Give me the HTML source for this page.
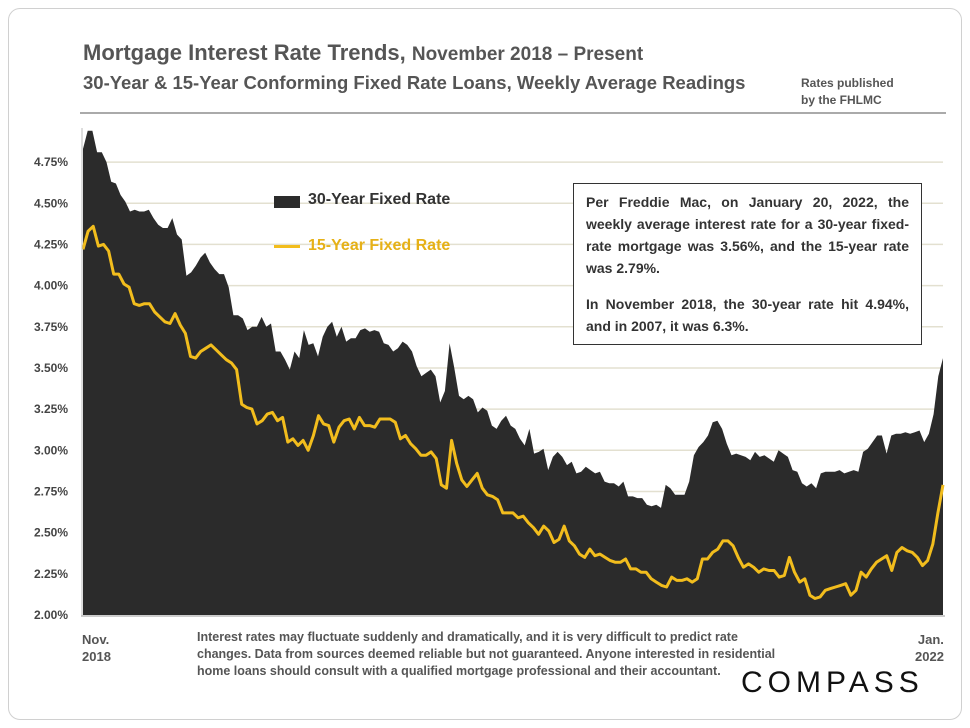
<!DOCTYPE html>
<html><head><meta charset="utf-8"><style>
body{margin:0;background:#fff;font-family:"Liberation Sans",sans-serif;}
#wrap{position:relative;width:970px;height:728px;overflow:hidden;}
.card{position:absolute;left:8px;top:8px;width:952px;height:710px;border:1px solid #d0d0d0;border-radius:12px;}
.t{position:absolute;color:#555;font-weight:bold;white-space:nowrap;}
</style></head><body>
<div id="wrap">
<div class="card"></div>
<div class="t" style="left:83px;top:40px;font-size:22px;">Mortgage Interest Rate Trends, <span style="font-size:19px">November 2018 – Present</span></div>
<div class="t" style="left:83px;top:72px;font-size:18.5px;">30-Year &amp; 15-Year Conforming Fixed Rate Loans, Weekly Average Readings</div>
<div class="t" style="left:801px;top:75px;font-size:12px;line-height:17px;">Rates published<br>by the FHLMC</div>
<div style="position:absolute;left:80px;top:112px;width:866px;height:2px;background:#aaa;"></div>
<svg id="chart" width="970" height="728" style="position:absolute;left:0;top:0"></svg>
<div class="t" style="left:308px;top:191px;font-size:16px;color:#333;">30-Year Fixed Rate</div>
<div style="position:absolute;left:274px;top:196px;width:26px;height:12px;background:#2b2b2b;"></div>
<div class="t" style="left:308px;top:237px;font-size:16px;color:#e6b117;">15-Year Fixed Rate</div>
<div style="position:absolute;left:274px;top:245px;width:26px;height:3px;background:#f2bd1d;"></div>
<div style="position:absolute;left:573px;top:183px;width:323px;height:145px;border:1.5px solid #333;background:#fff;padding:7px 12px 8px;font-size:14px;font-weight:bold;color:#333;line-height:22px;text-align:justify;">Per Freddie Mac, on January 20, 2022, the weekly average interest rate for a 30-year fixed-rate mortgage was 3.56%, and the 15-year rate was 2.79%.<div style="height:14px"></div>In November 2018, the 30-year rate hit 4.94%, and in 2007, it was 6.3%.</div>
<div class="t" style="left:82px;top:631px;font-size:13px;line-height:17px;">Nov.<br>2018</div>
<div class="t" style="left:915px;top:631px;font-size:13px;line-height:17px;text-align:right;">Jan.<br>2022</div>
<div class="t" style="left:197px;top:629px;font-size:12.5px;line-height:17px;white-space:normal;width:588px;">Interest rates may fluctuate suddenly and dramatically, and it is very difficult to predict rate changes. Data from sources deemed reliable but not guaranteed. Anyone interested in residential home loans should consult with a qualified mortgage professional and their accountant.</div>
<div class="t" style="left:741px;top:666px;font-size:30px;color:#111;letter-spacing:5px;font-weight:normal;">COMPASS</div>
</div>
<script>
const yTicks=[2.00,2.25,2.50,2.75,3.00,3.25,3.50,3.75,4.00,4.25,4.50,4.75];
const rate30=[4.83,4.94,4.94,4.81,4.81,4.75,4.63,4.62,4.55,4.51,4.45,4.46,4.45,4.45,4.46,4.41,4.37,4.35,4.35,4.41,4.31,4.28,4.06,4.08,4.12,4.17,4.20,4.14,4.10,4.07,4.07,3.99,3.82,3.82,3.80,3.73,3.75,3.75,3.81,3.75,3.77,3.60,3.60,3.55,3.49,3.60,3.56,3.73,3.64,3.65,3.57,3.69,3.75,3.78,3.69,3.75,3.66,3.68,3.68,3.73,3.74,3.72,3.73,3.72,3.65,3.64,3.60,3.62,3.66,3.64,3.60,3.51,3.45,3.47,3.49,3.45,3.29,3.36,3.65,3.50,3.33,3.31,3.33,3.31,3.23,3.26,3.24,3.15,3.13,3.18,3.21,3.15,3.13,3.07,3.03,3.13,2.98,2.99,3.01,2.88,2.96,2.99,2.96,2.91,2.93,2.86,2.87,2.90,2.88,2.86,2.87,2.81,2.80,2.80,2.78,2.81,2.72,2.72,2.71,2.71,2.67,2.66,2.67,2.65,2.79,2.77,2.73,2.73,2.73,2.81,2.97,3.02,3.05,3.09,3.17,3.18,3.13,3.04,2.97,2.98,2.97,2.96,2.94,2.99,2.96,2.97,2.95,2.93,3.00,2.98,2.96,2.88,2.87,2.80,2.78,2.80,2.77,2.86,2.87,2.87,2.87,2.88,2.86,2.87,2.88,2.87,2.99,3.01,3.05,3.09,3.09,2.98,3.09,3.10,3.10,3.11,3.10,3.11,3.12,3.05,3.10,3.22,3.45,3.56];
const rate15=[4.22,4.33,4.36,4.24,4.25,4.21,4.07,4.07,4.01,3.99,3.89,3.88,3.89,3.89,3.84,3.81,3.78,3.77,3.83,3.76,3.71,3.57,3.56,3.60,3.62,3.64,3.61,3.58,3.55,3.53,3.49,3.28,3.26,3.25,3.16,3.18,3.22,3.23,3.18,3.20,3.05,3.07,3.03,3.06,3.00,3.09,3.21,3.16,3.15,3.05,3.14,3.18,3.19,3.13,3.20,3.15,3.15,3.14,3.19,3.19,3.19,3.17,3.07,3.09,3.04,3.01,2.97,2.97,2.99,2.95,2.79,2.77,3.06,2.92,2.82,2.78,2.82,2.86,2.77,2.73,2.72,2.70,2.62,2.62,2.62,2.59,2.60,2.56,2.53,2.49,2.54,2.51,2.44,2.46,2.54,2.45,2.42,2.37,2.35,2.40,2.36,2.37,2.35,2.33,2.32,2.32,2.34,2.28,2.28,2.26,2.26,2.22,2.20,2.18,2.17,2.23,2.21,2.21,2.22,2.20,2.22,2.34,2.34,2.38,2.40,2.45,2.45,2.42,2.35,2.29,2.31,2.29,2.26,2.28,2.27,2.27,2.23,2.24,2.35,2.26,2.20,2.22,2.12,2.10,2.11,2.15,2.16,2.17,2.18,2.19,2.12,2.15,2.26,2.23,2.28,2.32,2.34,2.36,2.27,2.38,2.41,2.39,2.38,2.35,2.30,2.33,2.43,2.62,2.79];
const X0=83,X1=943,Y0=615,PXPER=164.7;
const yS=v=>Y0-(v-2)*PXPER;
const xS=(i,n)=>X0+(X1-X0)*i/(n-1);
const NS='http://www.w3.org/2000/svg';
const svg=document.getElementById('chart');
function mk(t,a){const e=document.createElementNS(NS,t);for(const k in a)e.setAttribute(k,a[k]);svg.appendChild(e);return e;}
yTicks.forEach(v=>{
  if(v>2){const g=mk('line',{x1:X0,x2:X1,y1:yS(v),y2:yS(v),stroke:'#e3e0d0','stroke-width':1.5});
  
  }
  const t=mk('text',{x:68,y:yS(v)+4,'text-anchor':'end','font-size':12,'font-weight':'bold',fill:'#444','font-family':'Liberation Sans, sans-serif'});
  t.textContent=v.toFixed(2)+'%';
  
  
});
let d='M'+X0+','+Y0;
rate30.forEach((v,i)=>{d+=' L'+xS(i,rate30.length).toFixed(1)+','+yS(v).toFixed(1);});
d+=' L'+X1+','+Y0+' Z';
const a=mk('path',{d:d,fill:'#2b2b2b'});


const pts=rate15.map((v,i)=>xS(i,rate15.length).toFixed(1)+','+yS(v).toFixed(1)).join(' ');
const l=mk('polyline',{points:pts,fill:'none',stroke:'#f2bd1d','stroke-width':3,'stroke-linejoin':'round'});


const ax=mk('line',{x1:X0-2,x2:X1+2,y1:Y0+1,y2:Y0+1,stroke:'#bbb','stroke-width':1.5});


const ay=mk('line',{x1:X0-1,x2:X0-1,y1:128,y2:Y0+1,stroke:'#bbb','stroke-width':1});


</script>
</body></html>
